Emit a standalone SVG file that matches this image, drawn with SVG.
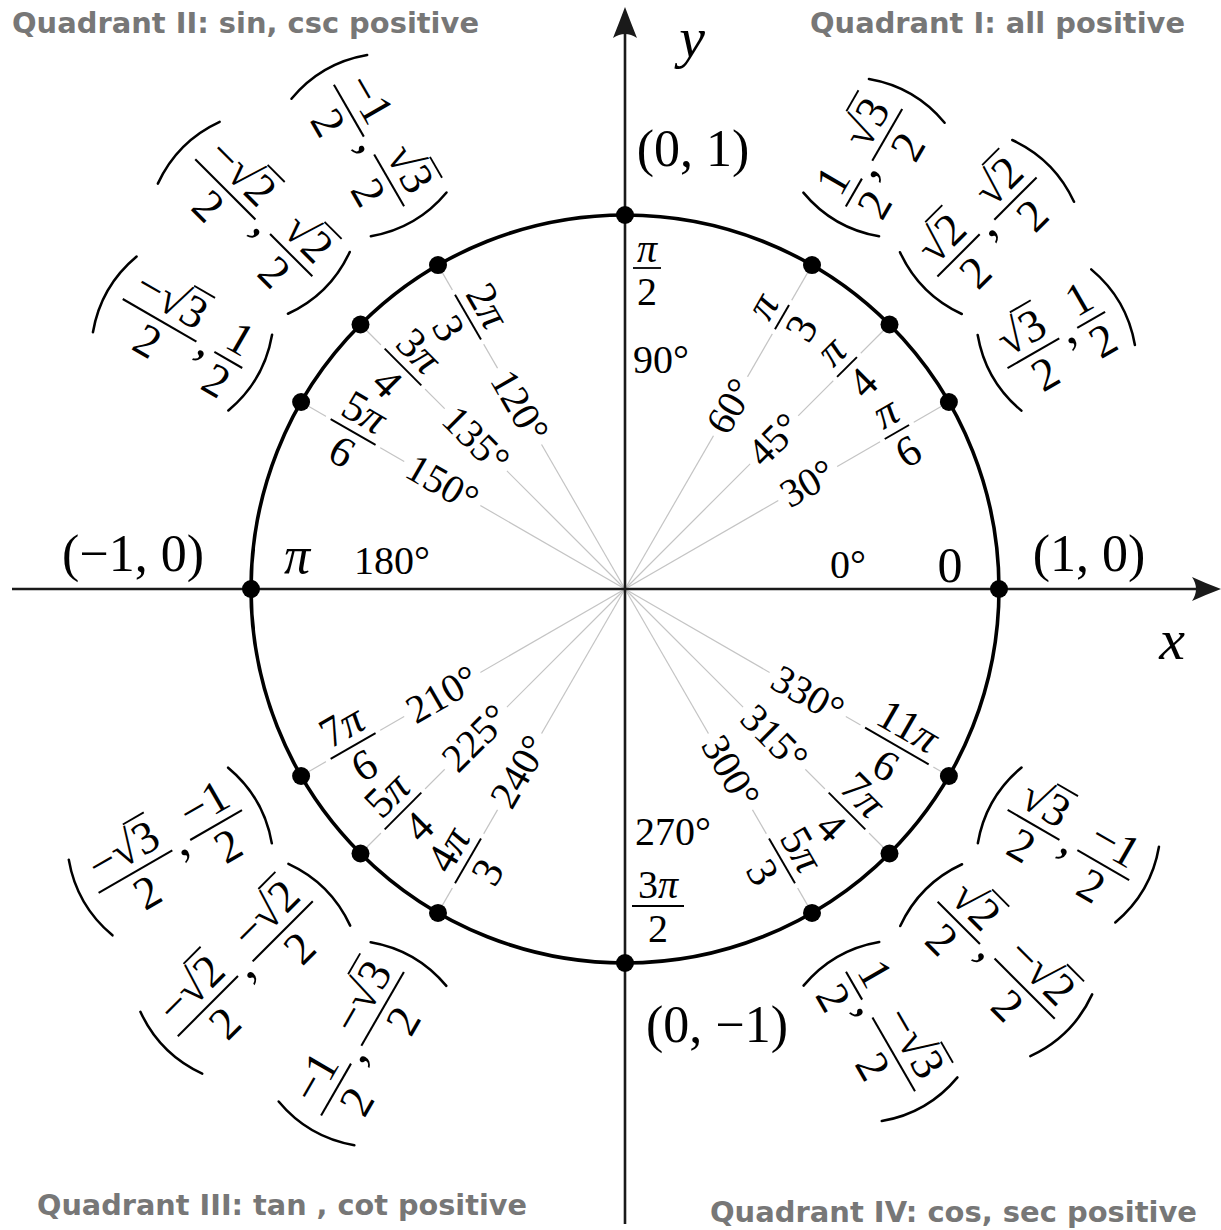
<svg xmlns="http://www.w3.org/2000/svg" width="1221" height="1230" viewBox="0 0 1221 1230">
<style>
.m{font-family:"Liberation Serif","DejaVu Serif",serif;fill:#000}
.f{font-size:40px;text-anchor:middle}
.c{font-size:52px;text-anchor:middle}
.cm{font-size:44px}
.i{font-style:italic}
.b{stroke:#000;stroke-width:1.8}
.v{stroke:#000;stroke-width:1.6}
.p{fill:none;stroke:#000;stroke-width:2.2;stroke-linecap:round}
.w{fill:#fff}
.ray{stroke:#c4c4c4;stroke-width:1.2}
.ax{stroke:#1a1a1a;stroke-width:2.6;fill:none}
.ah{fill:#1a1a1a}
.dot{fill:#000}
.q{font-family:"DejaVu Sans","Liberation Sans",sans-serif;font-weight:700;font-size:29px;fill:#777}
</style>
<rect width="1221" height="1230" fill="#fff"/>
<g id="titles">
<text class="q" x="12" y="33" textLength="467" lengthAdjust="spacingAndGlyphs">Quadrant II: sin, csc positive</text>
<text class="q" x="810" y="33" textLength="375" lengthAdjust="spacingAndGlyphs">Quadrant I: all positive</text>
<text class="q" x="37" y="1215" textLength="490" lengthAdjust="spacingAndGlyphs">Quadrant III: tan , cot positive</text>
<text class="q" x="710" y="1222" textLength="487" lengthAdjust="spacingAndGlyphs">Quadrant IV: cos, sec positive</text>
</g>
<g id="connectors">
<line class="ray" x1="625" y1="589" x2="948.9" y2="402"/>
<line class="ray" x1="625" y1="589" x2="889.5" y2="324.5"/>
<line class="ray" x1="625" y1="589" x2="812" y2="265.1"/>
<line class="ray" x1="625" y1="589" x2="438" y2="265.1"/>
<line class="ray" x1="625" y1="589" x2="360.5" y2="324.5"/>
<line class="ray" x1="625" y1="589" x2="301.1" y2="402"/>
<line class="ray" x1="625" y1="589" x2="301.1" y2="776"/>
<line class="ray" x1="625" y1="589" x2="360.5" y2="853.5"/>
<line class="ray" x1="625" y1="589" x2="438" y2="912.9"/>
<line class="ray" x1="625" y1="589" x2="812" y2="912.9"/>
<line class="ray" x1="625" y1="589" x2="889.5" y2="853.5"/>
<line class="ray" x1="625" y1="589" x2="948.9" y2="776"/>
<line id="x-axis" class="ax" x1="12" y1="589" x2="1206" y2="589"/>
<path class="ah" d="M1221,589 Q1205,583 1192,577 Q1200,589 1192,601 Q1205,595 1221,589 Z"/>
<line id="y-axis" class="ax" x1="625" y1="1224" x2="625" y2="22"/>
<path class="ah" d="M625,7 Q619,23 613,38 Q625,30 637,38 Q631,23 625,7 Z"/>
</g>
<g id="unit-circle"><circle cx="625" cy="589" r="374" fill="none" stroke="#000" stroke-width="3.6"/></g>
<g id="axis-labels">
<text class="m i" x="692" y="57" style="font-size:58px;text-anchor:middle">y</text>
<text class="m i" x="1172" y="659" style="font-size:58px;text-anchor:middle">x</text>
</g>

<g id="n0">
<circle class="dot" cx="999" cy="589" r="9"/>
<text class="m f" x="848" y="578">0°</text>
<text class="m" x="950" y="582" style="font-size:50px;text-anchor:middle">0</text>
<text class="m c" x="1089" y="571">(1, 0)</text>
</g>
<g id="n90">
<circle class="dot" cx="625" cy="215" r="9"/>
<text class="m c" x="693" y="166">(0, 1)</text>
<text class="m f i" x="647" y="262">π</text><line class="b" x1="633" y1="268" x2="661" y2="268"/><text class="m f" x="647" y="305">2</text>
<text class="m" x="633" y="373" style="font-size:40px">90°</text>
</g>
<g id="n180">
<circle class="dot" cx="251" cy="589" r="9"/>
<text class="m c" x="133" y="571">(−1, 0)</text>
<text class="m i" x="297" y="573" style="font-size:52px;text-anchor:middle">π</text>
<text class="m f" x="392" y="574">180°</text>
</g>
<g id="n270">
<circle class="dot" cx="625" cy="963" r="9"/>
<text class="m c" x="717" y="1042">(0, −1)</text>
<text class="m" x="635" y="845" style="font-size:40px">270°</text>
<text class="m f" x="658" y="898">3<tspan class="i">π</tspan></text><line class="b" x1="632" y1="906" x2="684" y2="906"/><text class="m f" x="658" y="942">2</text>
</g>

<g id="n30">
<circle class="dot" cx="948.9" cy="402" r="9"/>
<g transform="translate(807.7,483.5) rotate(-30)"><rect class="w" x="-34" y="-4" width="68" height="8"/><text class="m f" y="13">30°</text></g>
<g transform="translate(896.9,432) rotate(-30) scale(1.08)"><rect class="w" x="-18" y="-4" width="36" height="8"/><text class="m f i" y="-8">π</text><line class="b" x1="-13" x2="13"/><text class="m f" y="34">6</text></g>
<g transform="translate(1056.3,340) rotate(-30) scale(1.15)">
<path class="p" d="M-57,-38 Q-71,0 -57,38"/>
<text class="m f" x="-23" y="-8">√3</text><line class="v" x1="-23" y1="-41" x2="-2" y2="-41"/><line class="b" x1="-49" x2="3"/><text class="m f" x="-23" y="34">2</text>
<text class="m cm" x="6" y="9">,</text>
<text class="m f" x="35" y="-8">1</text><line class="b" x1="21" x2="49"/><text class="m f" x="35" y="34">2</text>
<path class="p" d="M57,-38 Q71,0 57,38"/>
</g>
</g>

<g id="n45">
<circle class="dot" cx="889.5" cy="324.5" r="9"/>
<g transform="translate(774.2,439.8) rotate(-45)"><rect class="w" x="-34" y="-4" width="68" height="8"/><text class="m f" y="13">45°</text></g>
<g transform="translate(847,367) rotate(-45) scale(1.08)"><rect class="w" x="-18" y="-4" width="36" height="8"/><text class="m f i" y="-8">π</text><line class="b" x1="-13" x2="13"/><text class="m f" y="34">4</text></g>
<g transform="translate(987,227) rotate(-45) scale(1.15)">
<path class="p" d="M-69,-38 Q-83,0 -69,38"/>
<text class="m f" x="-35" y="-8">√2</text><line class="v" x1="-35" y1="-41" x2="-14" y2="-41"/><line class="b" x1="-61" x2="-9"/><text class="m f" x="-35" y="34">2</text>
<text class="m cm" x="-6" y="9">,</text>
<text class="m f" x="35" y="-8">√2</text><line class="v" x1="35" y1="-41" x2="56" y2="-41"/><line class="b" x1="9" x2="61"/><text class="m f" x="35" y="34">2</text>
<path class="p" d="M69,-38 Q83,0 69,38"/>
</g>
</g>

<g id="n60">
<circle class="dot" cx="812" cy="265.1" r="9"/>
<g transform="translate(730.5,406.3) rotate(-60)"><rect class="w" x="-34" y="-4" width="68" height="8"/><text class="m f" y="13">60°</text></g>
<g transform="translate(782,317.1) rotate(-60) scale(1.08)"><rect class="w" x="-18" y="-4" width="36" height="8"/><text class="m f i" y="-8">π</text><line class="b" x1="-13" x2="13"/><text class="m f" y="34">3</text></g>
<g transform="translate(874,157.7) rotate(-60) scale(1.15)">
<path class="p" d="M-57,-38 Q-71,0 -57,38"/>
<text class="m f" x="-35" y="-8">1</text><line class="b" x1="-49" x2="-21"/><text class="m f" x="-35" y="34">2</text>
<text class="m cm" x="-18" y="9">,</text>
<text class="m f" x="23" y="-8">√3</text><line class="v" x1="23" y1="-41" x2="44" y2="-41"/><line class="b" x1="-3" x2="49"/><text class="m f" x="23" y="34">2</text>
<path class="p" d="M57,-38 Q71,0 57,38"/>
</g>
</g>

<g id="n120">
<circle class="dot" cx="438" cy="265.1" r="9"/>
<g transform="translate(519.5,406.3) rotate(60)"><rect class="w" x="-44" y="-4" width="88" height="8"/><text class="m f" y="13">120°</text></g>
<g transform="translate(468,317.1) rotate(60) scale(1.08)"><rect class="w" x="-29" y="-4" width="58" height="8"/><text class="m f" y="-8">2<tspan class="i">π</tspan></text><line class="b" x1="-24" x2="24"/><text class="m f" y="34">3</text></g>
<g transform="translate(369,145.6) rotate(60) scale(1.15)">
<path class="p" d="M-69,-38 Q-83,0 -69,38"/>
<text class="m f" x="-35" y="-8">−1</text><line class="b" x1="-61" x2="-9"/><text class="m f" x="-35" y="34">2</text>
<text class="m cm" x="-6" y="9">,</text>
<text class="m f" x="35" y="-8">√3</text><line class="v" x1="35" y1="-41" x2="56" y2="-41"/><line class="b" x1="9" x2="61"/><text class="m f" x="35" y="34">2</text>
<path class="p" d="M69,-38 Q83,0 69,38"/>
</g>
</g>

<g id="n135">
<circle class="dot" cx="360.5" cy="324.5" r="9"/>
<g transform="translate(475.8,439.8) rotate(45)"><rect class="w" x="-44" y="-4" width="88" height="8"/><text class="m f" y="13">135°</text></g>
<g transform="translate(403,367) rotate(45) scale(1.08)"><rect class="w" x="-29" y="-4" width="58" height="8"/><text class="m f" y="-8">3<tspan class="i">π</tspan></text><line class="b" x1="-24" x2="24"/><text class="m f" y="34">4</text></g>
<g transform="translate(253.8,217.8) rotate(45) scale(1.15)">
<path class="p" d="M-80,-38 Q-94,0 -80,38"/>
<text class="m f" x="-35" y="-8">−√2</text><line class="v" x1="-24" y1="-41" x2="-3" y2="-41"/><line class="b" x1="-72" x2="2"/><text class="m f" x="-35" y="34">2</text>
<text class="m cm" x="5" y="9">,</text>
<text class="m f" x="46" y="-8">√2</text><line class="v" x1="46" y1="-41" x2="67" y2="-41"/><line class="b" x1="20" x2="72"/><text class="m f" x="46" y="34">2</text>
<path class="p" d="M80,-38 Q94,0 80,38"/>
</g>
</g>

<g id="n150">
<circle class="dot" cx="301.1" cy="402" r="9"/>
<g transform="translate(442.3,483.5) rotate(30)"><rect class="w" x="-44" y="-4" width="88" height="8"/><text class="m f" y="13">150°</text></g>
<g transform="translate(353.1,432) rotate(30) scale(1.08)"><rect class="w" x="-29" y="-4" width="58" height="8"/><text class="m f" y="-8">5<tspan class="i">π</tspan></text><line class="b" x1="-24" x2="24"/><text class="m f" y="34">6</text></g>
<g transform="translate(182.5,333.5) rotate(30) scale(1.15)">
<path class="p" d="M-68,-38 Q-82,0 -68,38"/>
<text class="m f" x="-23" y="-8">−√3</text><line class="v" x1="-12" y1="-41" x2="9" y2="-41"/><line class="b" x1="-60" x2="14"/><text class="m f" x="-23" y="34">2</text>
<text class="m cm" x="17" y="9">,</text>
<text class="m f" x="46" y="-8">1</text><line class="b" x1="32" x2="60"/><text class="m f" x="46" y="34">2</text>
<path class="p" d="M68,-38 Q82,0 68,38"/>
</g>
</g>

<g id="n210">
<circle class="dot" cx="301.1" cy="776" r="9"/>
<g transform="translate(442.3,694.5) rotate(-30)"><rect class="w" x="-44" y="-4" width="88" height="8"/><text class="m f" y="13">210°</text></g>
<g transform="translate(353.1,746) rotate(-30) scale(1.08)"><rect class="w" x="-29" y="-4" width="58" height="8"/><text class="m f" y="-8">7<tspan class="i">π</tspan></text><line class="b" x1="-24" x2="24"/><text class="m f" y="34">6</text></g>
<g transform="translate(170.3,851.5) rotate(-30) scale(1.15)">
<path class="p" d="M-80,-38 Q-94,0 -80,38"/>
<text class="m f" x="-35" y="-8">−√3</text><line class="v" x1="-24" y1="-41" x2="-3" y2="-41"/><line class="b" x1="-72" x2="2"/><text class="m f" x="-35" y="34">2</text>
<text class="m cm" x="5" y="9">,</text>
<text class="m f" x="46" y="-8">−1</text><line class="b" x1="20" x2="72"/><text class="m f" x="46" y="34">2</text>
<path class="p" d="M80,-38 Q94,0 80,38"/>
</g>
</g>

<g id="n225">
<circle class="dot" cx="360.5" cy="853.5" r="9"/>
<g transform="translate(475.8,738.2) rotate(-45)"><rect class="w" x="-44" y="-4" width="88" height="8"/><text class="m f" y="13">225°</text></g>
<g transform="translate(403,811) rotate(-45) scale(1.08)"><rect class="w" x="-29" y="-4" width="58" height="8"/><text class="m f" y="-8">5<tspan class="i">π</tspan></text><line class="b" x1="-24" x2="24"/><text class="m f" y="34">4</text></g>
<g transform="translate(245.3,968.7) rotate(-45) scale(1.15)">
<path class="p" d="M-91,-38 Q-105,0 -91,38"/>
<text class="m f" x="-46" y="-8">−√2</text><line class="v" x1="-35" y1="-41" x2="-14" y2="-41"/><line class="b" x1="-83" x2="-9"/><text class="m f" x="-46" y="34">2</text>
<text class="m cm" x="-6" y="9">,</text>
<text class="m f" x="46" y="-8">−√2</text><line class="v" x1="57" y1="-41" x2="78" y2="-41"/><line class="b" x1="9" x2="83"/><text class="m f" x="46" y="34">2</text>
<path class="p" d="M91,-38 Q105,0 91,38"/>
</g>
</g>

<g id="n240">
<circle class="dot" cx="438" cy="912.9" r="9"/>
<g transform="translate(519.5,771.7) rotate(-60)"><rect class="w" x="-44" y="-4" width="88" height="8"/><text class="m f" y="13">240°</text></g>
<g transform="translate(468,860.9) rotate(-60) scale(1.08)"><rect class="w" x="-29" y="-4" width="58" height="8"/><text class="m f" y="-8">4<tspan class="i">π</tspan></text><line class="b" x1="-24" x2="24"/><text class="m f" y="34">3</text></g>
<g transform="translate(362.5,1043.7) rotate(-60) scale(1.15)">
<path class="p" d="M-80,-38 Q-94,0 -80,38"/>
<text class="m f" x="-46" y="-8">−1</text><line class="b" x1="-72" x2="-20"/><text class="m f" x="-46" y="34">2</text>
<text class="m cm" x="-17" y="9">,</text>
<text class="m f" x="35" y="-8">−√3</text><line class="v" x1="46" y1="-41" x2="67" y2="-41"/><line class="b" x1="-2" x2="72"/><text class="m f" x="35" y="34">2</text>
<path class="p" d="M80,-38 Q94,0 80,38"/>
</g>
</g>

<g id="n300">
<circle class="dot" cx="812" cy="912.9" r="9"/>
<g transform="translate(730.5,771.7) rotate(60)"><rect class="w" x="-44" y="-4" width="88" height="8"/><text class="m f" y="13">300°</text></g>
<g transform="translate(782,860.9) rotate(60) scale(1.08)"><rect class="w" x="-29" y="-4" width="58" height="8"/><text class="m f" y="-8">5<tspan class="i">π</tspan></text><line class="b" x1="-24" x2="24"/><text class="m f" y="34">3</text></g>
<g transform="translate(880.5,1031.5) rotate(60) scale(1.15)">
<path class="p" d="M-68,-38 Q-82,0 -68,38"/>
<text class="m f" x="-46" y="-8">1</text><line class="b" x1="-60" x2="-32"/><text class="m f" x="-46" y="34">2</text>
<text class="m cm" x="-29" y="9">,</text>
<text class="m f" x="23" y="-8">−√3</text><line class="v" x1="34" y1="-41" x2="55" y2="-41"/><line class="b" x1="-14" x2="60"/><text class="m f" x="23" y="34">2</text>
<path class="p" d="M68,-38 Q82,0 68,38"/>
</g>
</g>

<g id="n315">
<circle class="dot" cx="889.5" cy="853.5" r="9"/>
<g transform="translate(774.2,738.2) rotate(45)"><rect class="w" x="-44" y="-4" width="88" height="8"/><text class="m f" y="13">315°</text></g>
<g transform="translate(847,811) rotate(45) scale(1.08)"><rect class="w" x="-29" y="-4" width="58" height="8"/><text class="m f" y="-8">7<tspan class="i">π</tspan></text><line class="b" x1="-24" x2="24"/><text class="m f" y="34">4</text></g>
<g transform="translate(996.2,960.2) rotate(45) scale(1.15)">
<path class="p" d="M-80,-38 Q-94,0 -80,38"/>
<text class="m f" x="-46" y="-8">√2</text><line class="v" x1="-46" y1="-41" x2="-25" y2="-41"/><line class="b" x1="-72" x2="-20"/><text class="m f" x="-46" y="34">2</text>
<text class="m cm" x="-17" y="9">,</text>
<text class="m f" x="35" y="-8">−√2</text><line class="v" x1="46" y1="-41" x2="67" y2="-41"/><line class="b" x1="-2" x2="72"/><text class="m f" x="35" y="34">2</text>
<path class="p" d="M80,-38 Q94,0 80,38"/>
</g>
</g>

<g id="n330">
<circle class="dot" cx="948.9" cy="776" r="9"/>
<g transform="translate(807.7,694.5) rotate(30)"><rect class="w" x="-44" y="-4" width="88" height="8"/><text class="m f" y="13">330°</text></g>
<g transform="translate(896.9,746) rotate(30) scale(1.08)"><rect class="w" x="-39" y="-4" width="78" height="8"/><text class="m f" y="-8">11<tspan class="i">π</tspan></text><line class="b" x1="-34" x2="34"/><text class="m f" y="34">6</text></g>
<g transform="translate(1068.4,845) rotate(30) scale(1.15)">
<path class="p" d="M-69,-38 Q-83,0 -69,38"/>
<text class="m f" x="-35" y="-8">√3</text><line class="v" x1="-35" y1="-41" x2="-14" y2="-41"/><line class="b" x1="-61" x2="-9"/><text class="m f" x="-35" y="34">2</text>
<text class="m cm" x="-6" y="9">,</text>
<text class="m f" x="35" y="-8">−1</text><line class="b" x1="9" x2="61"/><text class="m f" x="35" y="34">2</text>
<path class="p" d="M69,-38 Q83,0 69,38"/>
</g>
</g>
</svg>
